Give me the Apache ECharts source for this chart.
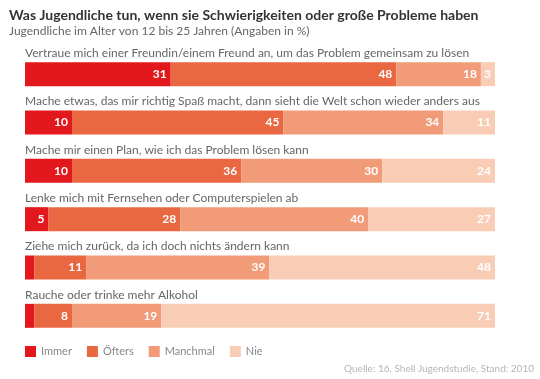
<!DOCTYPE html>
<html><head><meta charset="utf-8">
<script src="https://cdn.jsdelivr.net/npm/echarts@6/dist/echarts.min.js"></script>
<style>html,body{margin:0;padding:0;background:#fff}#c{width:540px;height:379px}</style>
</head><body><div id="c"></div>
<script>
const categories = [
  "Vertraue mich einer Freundin/einem Freund an, um das Problem gemeinsam zu lösen",
  "Mache etwas, das mir richtig Spaß macht, dann sieht die Welt schon wieder anders aus",
  "Mache mir einen Plan, wie ich das Problem lösen kann",
  "Lenke mich mit Fernsehen oder Computerspielen ab",
  "Ziehe mich zurück, da ich doch nichts ändern kann",
  "Rauche oder trinke mehr Alkohol"
];
const seriesNames = ["Immer", "Öfters", "Manchmal", "Nie"];
const immer = [31, 10, 10, 5, 2, 2];
const oefters = [48, 45, 36, 28, 11, 8];
const manchmal = [18, 34, 30, 40, 39, 19];
const nie = [3, 11, 24, 27, 48, 71];
const colors = ["#e3181c", "#e96741", "#f19b78", "#f9ccb6"];

const font = "Lato, 'Open Sans', sans-serif";
const chart = echarts.init(document.getElementById('c'));
const data = [immer, oefters, manchmal, nie];
chart.setOption({
  animation: false,
  title: [{
    text: "Was Jugendliche tun, wenn sie Schwierigkeiten oder große Probleme haben",
    left: 4, top: 3,
    textStyle: {fontFamily: font, fontSize: 14, fontWeight: 'bold', color: '#333'}
  }, {
    text: "Jugendliche im Alter von 12 bis 25 Jahren (Angaben in %)",
    left: 4, top: 20,
    textStyle: {fontFamily: font, fontSize: 12, fontWeight: 'normal', color: '#666'}
  }],
  legend: {
    data: seriesNames,
    left: 20, top: 341,
    icon: 'rect', itemWidth: 11, itemHeight: 11, itemGap: 15,
    textStyle: {fontFamily: font, fontSize: 11, color: '#888'}
  },
  graphic: [{
    type: 'text', right: 6, top: 364,
    style: {text: "Quelle: 16. Shell Jugendstudie, Stand: 2010", font: "10px " + font, fill: '#b5b5b5'}
  }],
  grid: {left: 25, right: 45, top: 50, height: 290, containLabel: false},
  xAxis: {type: 'value', min: 0, max: 100, show: false},
  yAxis: {
    type: 'category', data: categories, inverse: true,
    axisLine: {show: false}, axisTick: {show: false},
    axisLabel: {
      inside: true, margin: 0, verticalAlign: 'bottom', align: 'left',
      padding: [0, 0, 15, 0],
      fontFamily: font, fontSize: 12, color: '#666'
    }
  },
  series: seriesNames.map((n, i) => ({
    name: n, type: 'bar', stack: 'a', barWidth: 24,
    itemStyle: {color: colors[i]},
    label: {
      show: true, position: 'insideRight', distance: 4,
      color: '#fff', fontFamily: font, fontWeight: 'bold', fontSize: 12,
      formatter: p => p.value >= 3 ? p.value : ''
    },
    data: data[i]
  }))
});
</script></body></html>
